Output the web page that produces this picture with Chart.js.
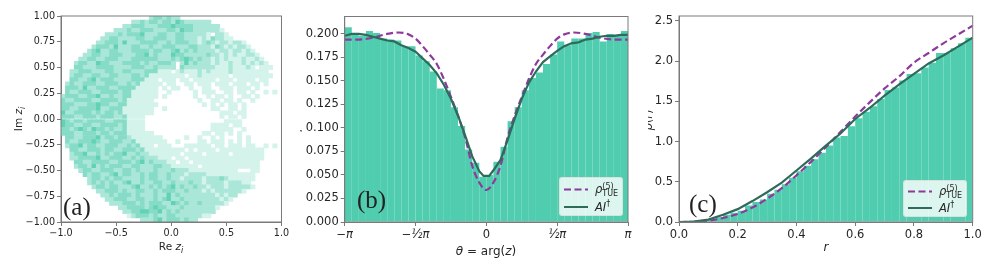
<!DOCTYPE html>
<html>
<head>
<meta charset="utf-8">
<script src="https://cdn.jsdelivr.net/npm/chart.js@4"></script>
<style>
  html, body { margin: 0; padding: 0; background: #fff; }
  #page { position: relative; width: 996px; height: 275px; overflow: hidden; filter: blur(0.6px);
    font-family: "DejaVu Sans", sans-serif; font-size: 11.5px; color: #262626; }
  canvas { position: absolute; top: 0; }
  .label { position: absolute; white-space: nowrap; transform: translate(-50%, -50%); }
  .label.rot { transform: translate(-50%, -50%) rotate(-90deg); }
  .small { font-size: 10.5px; }
  .panel { position: absolute; font-family: "Liberation Serif", serif; font-size: 25px; line-height: 28px; color: #222; }
  .clip { position: absolute; overflow: hidden; }
  .legend { position: absolute; background: rgba(255, 255, 255, 0.8); border: 1px solid rgba(220, 220, 220, 0.8);
    border-radius: 3px; box-sizing: border-box; }
  .legend svg { position: absolute; left: 4px; top: 0; }
  .legend span { position: absolute; white-space: nowrap; }
  sub, sup { font-size: 8px; line-height: 0; }
  .stack { display: inline-block; position: relative; width: 18px; height: 12px; vertical-align: baseline; }
  .stack b { position: absolute; left: 0; font-weight: normal; font-size: 8px; line-height: 9px; }
</style>
</head>
<body>
<div id="page">
  <canvas id="chartA" width="300" height="250" style="left:0"></canvas>
  <canvas id="chartB" width="345" height="250" style="left:300px"></canvas>
  <canvas id="chartC" width="345" height="250" style="left:640px"></canvas>

  <div class="label small" style="left:171px;top:246px">Re <i>z<sub>i</sub></i></div>
  <div class="label rot small" style="left:18px;top:119px">Im <i>z<sub>i</sub></i></div>
  <div class="label" style="left:486px;top:251px;font-size:12px"><i>θ</i> = arg(<i>z</i>)</div>
  <div class="label" style="left:826px;top:247px;font-size:12px"><i>r</i></div>

  <div class="clip" style="left:300px;top:100px;width:3px;height:40px">
    <div class="label rot" style="left:-5px;top:20px"><i>ρ</i>(<i>θ</i>)</div>
  </div>
  <div class="clip" style="left:648px;top:100px;width:10px;height:40px">
    <div class="label rot" style="left:0px;top:20px"><i>ρ</i>(<i>r</i>)</div>
  </div>

  <div class="panel" style="left:63px;top:193px">(a)</div>
  <div class="panel" style="left:357px;top:186px">(b)</div>
  <div class="panel" style="left:689px;top:190px">(c)</div>

  <div class="legend" style="left:559px;top:177px;width:64px;height:39px">
    <svg width="30" height="39"><line x1="0" x2="24" y1="11.5" y2="11.5" stroke="#8e3a9d" stroke-width="2" stroke-dasharray="7,3.5"/><line x1="0" x2="24" y1="29" y2="29" stroke="#2f6b5c" stroke-width="2"/></svg>
    <span style="left:35px;top:4px"><i>ρ</i><span class="stack"><b style="top:0px">(5)</b><b style="top:7px">TUE</b></span></span>
    <span style="left:35px;top:22px"><i>AI</i><sup>†</sup></span>
  </div>
  <div class="legend" style="left:903px;top:180px;width:64px;height:37px">
    <svg width="30" height="37"><line x1="0" x2="24" y1="10.5" y2="10.5" stroke="#8e3a9d" stroke-width="2" stroke-dasharray="7,3.5"/><line x1="0" x2="24" y1="27" y2="27" stroke="#2f6b5c" stroke-width="2"/></svg>
    <span style="left:35px;top:3px"><i>ρ</i><span class="stack"><b style="top:0px">(5)</b><b style="top:7px">TUE</b></span></span>
    <span style="left:35px;top:20px"><i>AI</i><sup>†</sup></span>
  </div>
</div>

<script>
// Panel (a): 2d histogram, one string per row from the top, one digit per cell
const heatRows = [
  "0000000000 0000000000 2332322000 0000000000 0000000000",
  "0000000000 0000002232 3323324322 2222000000 0000000000",
  "0000000000 0000223332 2233343333 2222220000 0000000000",
  "0000000000 0022232233 3222332433 2222221000 0000000000",
  "0000000000 2223233342 2233223322 2221022100 0000000000",
  "0000000002 2332222332 2333223322 2121322110 0000000000",
  "0000000022 3332422233 3322323332 2123212212 2100000000",
  "0000000233 3242223322 3223332223 3222132121 2210000000",
  "0000002342 2332223333 2332234232 3222212212 2121000000",
  "0000022332 2333222334 2322243322 2223221212 1122100000",
  "0000223322 3332223333 3322232343 2322121211 1211210000",
  "0002332243 3222333323 2233320242 3222121121 1212121000",
  "0003322233 3322223332 2322220322 2222211121 1121011100",
  "0022333222 3322332223 3311101211 1212111121 1111111000",
  "0023322332 2332223323 1111111101 1211111101 1111111100",
  "0033223423 3322223331 1101110110 1111101110 1111011000",
  "0232233322 3332232311 1110110011 0111011101 1101101000",
  "0333242233 3223333111 1101011001 0011001110 1110100000",
  "0322333223 3332331111 1100100000 1011100110 1101001010",
  "2333223342 2322331111 1101000000 1001011010 0110100000",
  "3223333223 3332311111 1000000000 0100110110 1001000000",
  "3332223343 3223311111 1100000000 0010101011 0100000000",
  "3322333342 2333111111 1001000000 0000110011 0100000000",
  "4223333232 3323111111 1000000000 0000001110 1100000000",
  "3332233323 3322311110 0000000000 0000001011 0100000000",
  "4323323333 2233311110 0000000000 0000000111 1000000000",
  "4332233223 3332311110 0000000000 0000111101 1000000000",
  "3323432433 2322311110 0000000000 0000111110 0100000000",
  "3332233323 3233311111 1000000000 0011011010 1000000000",
  "0332233342 3323321111 1110000010 0100101000 1010000000",
  "0322333432 2333223111 1111001000 0110111010 1010000000",
  "0233423322 3332232311 1011100011 1111011011 1011001010",
  "0033223332 3322333231 1111111101 0111101111 1111110000",
  "0023342232 3233422322 1111111011 1101111101 1111110000",
  "0022333342 2333223232 2211101101 1111111111 1111110000",
  "0003322333 3223332342 3222110110 1111111111 1111100000",
  "0002332423 2333223322 2332211111 1011111111 1111100000",
  "0000233223 3322332322 2322232221 1111111111 0001100000",
  "0000032332 2342332232 3322322212 2221111111 1111000000",
  "0000002332 3233222232 3322322122 2212223211 1111000000",
  "0000002323 2322342232 2332232223 2212222122 2110000000",
  "0000000233 2332223422 3232342322 3221222122 2221000000",
  "0000000022 3332322332 2323332232 2212122222 2100000000",
  "0000000002 2323332322 2322423222 2222212122 0000000000",
  "0000000000 2233322332 2323422322 2222221210 0000000000",
  "0000000000 0222333232 3332243232 2322222100 0000000000",
  "0000000000 0002233332 3433222322 2222210000 0000000000",
  "0000000000 0000223344 3342323222 2222200000 0000000000",
  "0000000000 0000012333 2322332222 2211000000 0000000000",
  "0000000000 0000000022 2342333232 2000000000 0000000000",
];
const heatColors = ["#ffffff", "#d4f3eb", "#aae7d8", "#86dcc6", "#62d2b6"];

// Panel (b): angle histogram, 40 bins from -pi to pi
const histTheta = [
  0.207, 0.199, 0.198, 0.203, 0.201, 0.195, 0.194, 0.193, 0.187, 0.187,
  0.177, 0.171, 0.160, 0.142, 0.140, 0.122, 0.102, 0.077, 0.063, 0.048,
  0.050, 0.064, 0.080, 0.107, 0.122, 0.140, 0.153, 0.159, 0.168, 0.178,
  0.192, 0.188, 0.195, 0.195, 0.201, 0.202, 0.192, 0.200, 0.199, 0.203,
];
// angles in units of pi
const thetaAi = [-1, -0.95, -0.9, -0.85, -0.8, -0.75, -0.7, -0.65, -0.6, -0.55, -0.5, -0.45, -0.4, -0.35, -0.3, -0.25, -0.2, -0.15, -0.1, -0.05, -0.02, 0.02, 0.05, 0.1, 0.15, 0.2, 0.25, 0.3, 0.35, 0.4, 0.45, 0.5, 0.55, 0.6, 0.65, 0.7, 0.75, 0.8, 0.85, 0.9, 0.95, 1];
const rhoThetaAi = [0.198, 0.2, 0.2, 0.199, 0.197, 0.195, 0.193, 0.192, 0.188, 0.185, 0.181, 0.174, 0.167, 0.158, 0.146, 0.131, 0.113, 0.092, 0.07, 0.054, 0.049, 0.049, 0.055, 0.066, 0.087, 0.11, 0.131, 0.148, 0.16, 0.17, 0.176, 0.182, 0.187, 0.19, 0.191, 0.194, 0.195, 0.197, 0.198, 0.198, 0.199, 0.199];
const thetaTue = [-1, -0.9, -0.8, -0.7, -0.62, -0.55, -0.5, -0.45, -0.4, -0.35, -0.3, -0.25, -0.2, -0.15, -0.1, -0.05, 0, 0.05, 0.1, 0.15, 0.2, 0.25, 0.3, 0.35, 0.4, 0.45, 0.5, 0.55, 0.62, 0.7, 0.8, 0.9, 1];
const rhoThetaTue = [0.194, 0.194, 0.196, 0.2, 0.2015, 0.1995, 0.195, 0.187, 0.178, 0.168, 0.152, 0.133, 0.113, 0.09, 0.06, 0.042, 0.034, 0.042, 0.06, 0.09, 0.113, 0.133, 0.152, 0.168, 0.178, 0.187, 0.195, 0.1995, 0.2015, 0.2, 0.196, 0.194, 0.194];
const thetaTickLabels = ["−π", "−½π", "0", "½π", "π"];

// Panel (c): radius histogram, 40 bins from 0 to 1
const histR = [
  0, 0.002, 0.01, 0.02, 0.04, 0.06, 0.09, 0.115, 0.14, 0.205,
  0.25, 0.28, 0.35, 0.4, 0.47, 0.55, 0.63, 0.7, 0.78, 0.86,
  0.95, 1.05, 1.07, 1.19, 1.29, 1.37, 1.44, 1.53, 1.64, 1.67,
  1.76, 1.84, 1.85, 1.92, 1.98, 2.1, 2.1, 2.16, 2.22, 2.29,
];
const rValues = [0, 0.05, 0.1, 0.15, 0.2, 0.25, 0.3, 0.35, 0.4, 0.45, 0.5, 0.55, 0.6, 0.65, 0.7, 0.75, 0.8, 0.85, 0.9, 0.95, 1];
const rhoRAi = [0, 0.005, 0.03, 0.09, 0.16, 0.26, 0.37, 0.49, 0.64, 0.79, 0.95, 1.1, 1.28, 1.42, 1.57, 1.71, 1.84, 1.97, 2.07, 2.18, 2.29];
const rhoRTue = [0, 0.002, 0.015, 0.05, 0.1, 0.18, 0.29, 0.42, 0.58, 0.75, 0.93, 1.12, 1.31, 1.49, 1.66, 1.81, 1.98, 2.1, 2.22, 2.33, 2.44];

const barColor = "#50cdae";
const tueColor = "#8e3a9d";
const aiColor = "#2f6b5c";
const tickFont = { family: "'DejaVu Sans', sans-serif", size: 11.5 };
const smallTickFont = { family: "'DejaVu Sans', sans-serif", size: 9.6 };
const tickColor = "#262626";
const axisGrey = "#7a7a7a";

// draws the top and right spines too
const framePlugin = {
  id: "frame",
  afterDraw(chart) {
    const { ctx, chartArea: a } = chart;
    ctx.save();
    ctx.strokeStyle = axisGrey;
    ctx.lineWidth = 1;
    ctx.strokeRect(a.left, a.top, a.right - a.left, a.bottom - a.top);
    ctx.restore();
  },
};

function makeAxis(min, max, step, format, size, fit, font) {
  return {
    type: "linear",
    min: min,
    max: max,
    offset: false,
    grid: { drawOnChartArea: false, drawTicks: true, tickLength: 4, color: axisGrey, offset: false },
    border: { color: axisGrey },
    ticks: {
      stepSize: step,
      includeBounds: false,
      autoSkip: false,
      maxRotation: 0,
      padding: 2,
      color: tickColor,
      font: font || tickFont,
      callback: format,
    },
    afterFit(axis) {
      axis[fit] = size;
    },
  };
}

const minus = (text) => text.replace("-", "−");
const baseOptions = {
  responsive: false,
  animation: false,
  devicePixelRatio: 1,
  plugins: { legend: { display: false }, tooltip: { enabled: false } },
};

// Panel (a)
const cells = [];
heatRows.forEach((row, r) => {
  row.replace(/ /g, "").split("").forEach((digit, c) => {
    if (digit !== "0") {
      cells.push({
        x: -1 + (c + 0.5) * 0.04,
        y: [1 - (r + 1) * 0.04, 1 - r * 0.04],
        level: Number(digit),
      });
    }
  });
});

new Chart(document.getElementById("chartA"), {
  type: "bar",
  data: {
    datasets: [{
      data: cells,
      backgroundColor: (ctx) => heatColors[ctx.raw ? ctx.raw.level : 0],
      barPercentage: 1,
      categoryPercentage: 1,
    }],
  },
  options: {
    ...baseOptions,
    layout: { padding: { top: 16, right: 18.5 } },
    scales: {
      x: makeAxis(-1, 1, 0.5, (v) => minus(v.toFixed(1)), 28, "height", smallTickFont),
      y: makeAxis(-1, 1, 0.25, (v) => minus(v.toFixed(2)), 61, "width", smallTickFont),
    },
  },
  plugins: [framePlugin],
});

// Panels (b) and (c) share the same layers
function histDatasets(hist, binStart, binWidth, tueX, tueY, aiX, aiY) {
  const toPoints = (xs, ys) => xs.map((x, i) => ({ x: x, y: ys[i] }));
  return [
    {
      type: "line",
      data: toPoints(aiX, aiY),
      borderColor: aiColor,
      borderWidth: 2.2,
      pointRadius: 0,
      tension: 0,
      order: 1,
    },
    {
      type: "line",
      data: toPoints(tueX, tueY),
      borderColor: tueColor,
      borderWidth: 2.2,
      borderDash: [7, 3.5],
      pointRadius: 0,
      cubicInterpolationMode: "monotone",
      order: 2,
    },
    {
      type: "bar",
      data: hist.map((v, i) => ({ x: binStart + (i + 0.5) * binWidth, y: v })),
      backgroundColor: barColor,
      barPercentage: 1,
      categoryPercentage: 1,
      inflateAmount: 0,
      order: 3,
    },
  ];
}

new Chart(document.getElementById("chartB"), {
  type: "bar",
  data: { datasets: histDatasets(histTheta, -1, 0.05, thetaTue, rhoThetaTue, thetaAi, rhoThetaAi) },
  options: {
    ...baseOptions,
    layout: { padding: { top: 16.5, right: 17 } },
    scales: {
      x: (() => {
        const axis = makeAxis(-1, 1, 0.5, (v, i) => thetaTickLabels[i], 28, "height");
        axis.ticks.font = (ctx) => ({ ...tickFont, style: ctx.index === 2 ? "normal" : "italic" });
        return axis;
      })(),
      y: makeAxis(0, 0.2185, 0.025, (v) => v.toFixed(3), 44.7, "width"),
    },
  },
  plugins: [framePlugin],
});

new Chart(document.getElementById("chartC"), {
  type: "bar",
  data: { datasets: histDatasets(histR, 0, 0.025, rValues, rhoRTue, rValues, rhoRAi) },
  options: {
    ...baseOptions,
    layout: { padding: { top: 16, right: 12.3 } },
    scales: {
      x: makeAxis(0, 1, 0.2, (v) => v.toFixed(1), 28, "height"),
      y: makeAxis(0, 2.56, 0.5, (v) => v.toFixed(1), 39, "width"),
    },
  },
  plugins: [framePlugin],
});
</script>
</body>
</html>
